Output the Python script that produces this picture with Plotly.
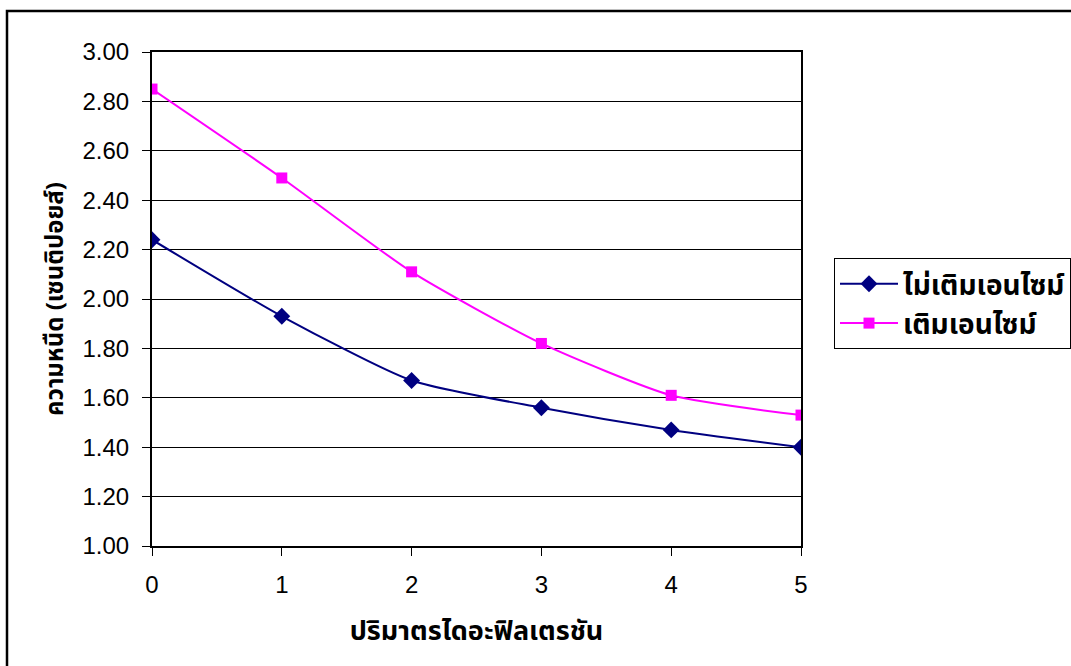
import plotly.graph_objects as go

# Diafiltration volume (x) vs. viscosity (centipoise)
volumes = [0, 1, 2, 3, 4, 5]
no_enzyme = [2.24, 1.93, 1.67, 1.56, 1.47, 1.40]
with_enzyme = [2.85, 2.49, 2.11, 1.82, 1.61, 1.53]
series_names = ["ไม่เติมเอนไซม์", "เติมเอนไซม์"]
y_ticks = [1.0, 1.2, 1.4, 1.6, 1.8, 2.0, 2.2, 2.4, 2.6, 2.8, 3.0]

FONT = "Liberation Sans, Arial, sans-serif"
THAI_FONT = "Tahoma, Noto Sans Thai, Loma, Garuda, DejaVu Sans, sans-serif"

fig = go.Figure()
fig.add_trace(go.Scatter(
    x=volumes, y=no_enzyme, name=f"<b>{series_names[0]}</b>",
    mode="lines+markers", line=dict(color="#000080", width=2, shape="spline", smoothing=0.6),
    marker=dict(symbol="diamond", size=13, color="#000080"),
))
fig.add_trace(go.Scatter(
    x=volumes, y=with_enzyme, name=f"<b>{series_names[1]}</b>",
    mode="lines+markers", line=dict(color="#FF00FF", width=2, shape="spline", smoothing=0.6),
    marker=dict(symbol="square", size=11, color="#FF00FF"),
))

W, H = 1071, 666
L, R, T, B = 152, 270, 52, 120
pw, ph = W - L - R, H - T - B

fig.update_layout(
    width=W, height=H,
    margin=dict(l=L, r=R, t=T, b=B, pad=0, autoexpand=False),
    paper_bgcolor="white", plot_bgcolor="white",
    font=dict(family=FONT, size=24, color="black"),
    showlegend=True,
    legend=dict(
        x=(834 - L) / pw, y=(H - B - 258) / ph, xanchor="left", yanchor="top",
        bordercolor="black", borderwidth=1, bgcolor="white",
        font=dict(family=THAI_FONT, size=28, color="black"),
        tracegroupgap=0, itemwidth=58,
    ),
    xaxis=dict(
        range=[0, 5], tickvals=volumes, ticktext=[str(v) for v in volumes],
        ticks="outside", ticklen=8, tickcolor="black", tickwidth=1,
        ticklabelstandoff=8,
        showline=True, linecolor="black", linewidth=2, mirror=True,
        showgrid=False, zeroline=False,
        title=dict(text="<b>ปริมาตรไดอะฟิลเตรชัน</b>", font=dict(family=THAI_FONT, size=27), standoff=24),
        tickfont=dict(size=24),
    ),
    yaxis=dict(
        range=[1.0, 3.0], tickvals=y_ticks, tickformat=".2f",
        ticks="outside", ticklen=8, tickcolor="black", tickwidth=1,
        ticklabelstandoff=8,
        showline=True, linecolor="black", linewidth=2, mirror=True,
        showgrid=True, gridcolor="black", gridwidth=1, zeroline=False,
        title=dict(text="<b>ความหนืด (เซนติปอยส์)</b>", font=dict(family=THAI_FONT, size=24), standoff=12),
        tickfont=dict(size=24),
    ),
)

# Outer chart frame
fig.add_shape(
    type="rect", xref="paper", yref="paper",
    x0=(7 - L) / pw, x1=(W + 20 - L) / pw,
    y0=(H - B - (H + 20)) / ph, y1=(H - B - 11) / ph,
    line=dict(color="black", width=2.5), fillcolor="rgba(0,0,0,0)", layer="below",
)

fig.write_html("out.html")
